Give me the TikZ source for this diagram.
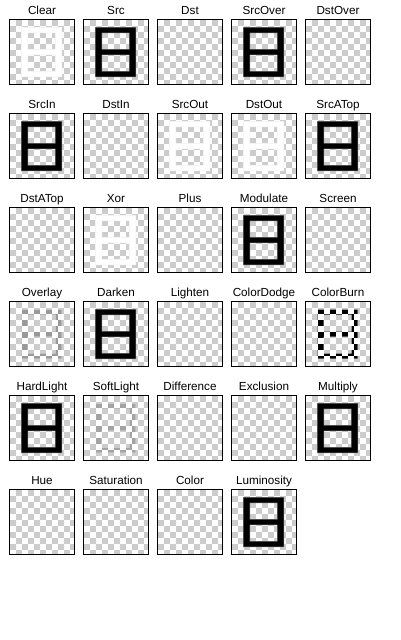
\documentclass[tikz,border=0pt]{standalone}
\usepackage{fontspec}
\setmainfont{Liberation Sans}
\definecolor{chk}{HTML}{CCCCCC}
\definecolor{ovl}{HTML}{999999}
\definecolor{sft}{HTML}{A3A3A3}
\definecolor{halo}{HTML}{777777}
\definecolor{whalo}{HTML}{EEEEEE}
\tikzset{
  lbl/.style={anchor=base,inner sep=0pt,font=\fontsize{11.7}{13}\selectfont},
  tilebox/.style={draw=black,line width=1pt,minimum size=65pt,inner sep=0pt,anchor=center},
}
% checks at the grey positions of the board, in colour #3
\newcommand\checkfill[3]{%
  \foreach \ri in {0,...,10}{\foreach \ci in {0,...,10}{%
    \pgfmathtruncatemacro\parity{mod(\ri+\ci,2)}%
    \ifnum\parity=1 \fill[#3] ({#1+6*\ci},{#2+6*\ri}) rectangle ++(6,6);\fi}}}
% #1 x, #2 y, #3 path command options, #4 enlargement
\newcommand\glyphpath[5]{#5[#3] (#1+11.5-#4,#2+7.5-#4) rectangle (#1+17.5+#4,#2+56.5+#4)
  (#1+45.5-#4,#2+7.5-#4) rectangle (#1+51.5+#4,#2+56.5+#4)
  (#1+11.5-#4,#2+7.5-#4) rectangle (#1+51.5+#4,#2+12.5+#4)
  (#1+11.5-#4,#2+29.5-#4) rectangle (#1+51.5+#4,#2+34.5+#4)
  (#1+11.5-#4,#2+51.5-#4) rectangle (#1+51.5+#4,#2+56.5+#4);}
\newcommand\kindempty[2]{}
\newcommand\kindblack[2]{\glyphpath{#1}{#2}{halo}{0.5}{\fill}\glyphpath{#1}{#2}{black}{0}{\fill}}
\newcommand\kindwhite[2]{\glyphpath{#1}{#2}{whalo}{0.5}{\fill}\glyphpath{#1}{#2}{white}{0}{\fill}}
\newcommand\kindpat[3]{\begin{scope}\glyphpath{#1}{#2}{}{0}{\clip}\fill[white] (#1,#2) rectangle ++(64,64);\checkfill{#1}{#2}{#3}\end{scope}}
\newcommand\kindburn[2]{\kindpat{#1}{#2}{black}}
\newcommand\kindoverlay[2]{\kindpat{#1}{#2}{ovl}}
\newcommand\kindsoft[2]{\kindpat{#1}{#2}{sft}}
\newcommand\tile[4]{%
  \node[lbl] (l-#3) at (#1+32,#2-6) {#3};
  \begin{scope}
    \clip (#1,#2) rectangle ++(64,64);
    \fill[white] (#1,#2) rectangle ++(64,64);
    \checkfill{#1}{#2}{chk}
    \csname kind#4\endcsname{#1}{#2}
  \end{scope}
  \node[tilebox] (t-#3) at (#1+32,#2+32) {};
}
\begin{document}
\begin{tikzpicture}[x=1pt,y=-1pt]
\useasboundingbox[fill=white] (0,0) rectangle (400,640);
\foreach \lab/\kind [count=\n from 0] in {
  Clear/white, Src/black, Dst/empty, SrcOver/black, DstOver/empty,
  SrcIn/black, DstIn/empty, SrcOut/white, DstOut/white, SrcATop/black,
  DstATop/empty, Xor/white, Plus/empty, Modulate/black, Screen/empty,
  Overlay/overlay, Darken/black, Lighten/empty, ColorDodge/empty, ColorBurn/burn,
  HardLight/black, SoftLight/soft, Difference/empty, Exclusion/empty, Multiply/black,
  Hue/empty, Saturation/empty, Color/empty, Luminosity/black}{
  \pgfmathtruncatemacro\ii{mod(\n,5)}
  \pgfmathtruncatemacro\jj{(\n-\ii)/5}
  \pgfmathsetmacro\tx{10+74*\ii}
  \pgfmathsetmacro\ty{20+94*\jj}
  \tile{\tx}{\ty}{\lab}{\kind}
}
\end{tikzpicture}
\end{document}
